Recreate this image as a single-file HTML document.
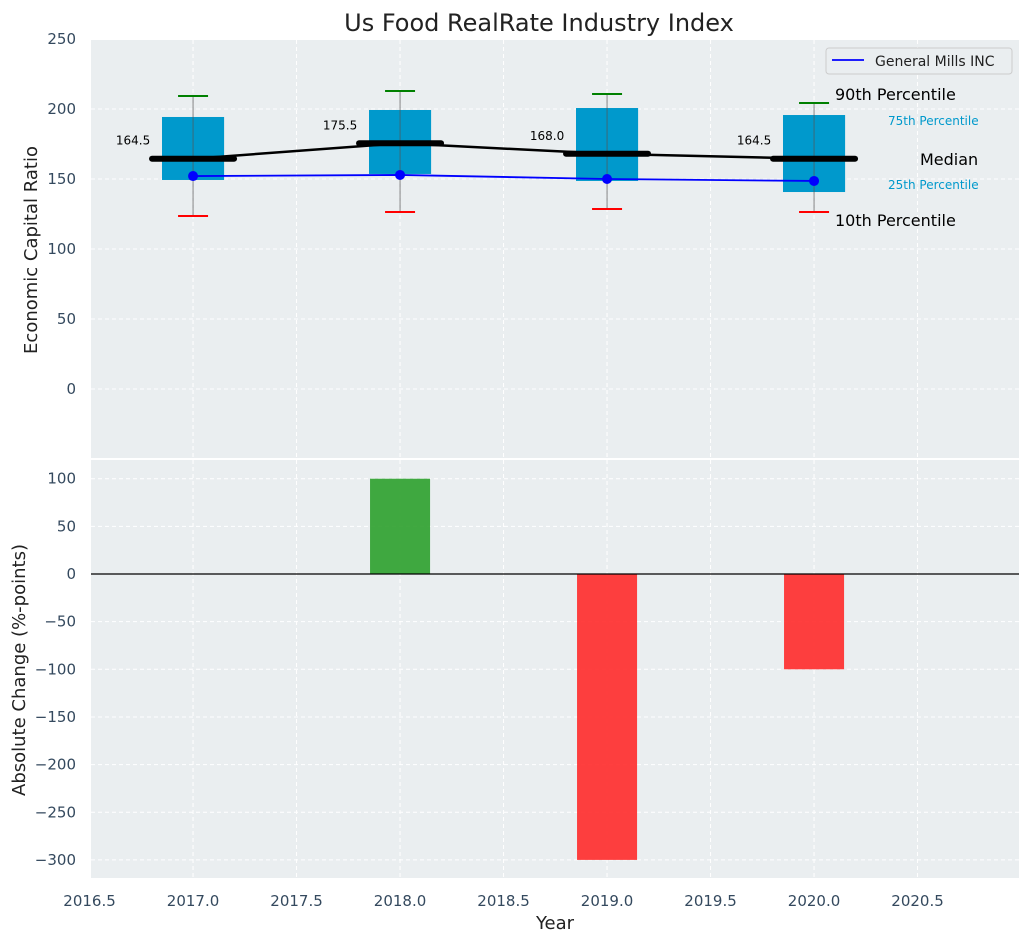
<!DOCTYPE html>
<html><head><meta charset="utf-8"><style>
body{margin:0;background:#fff;font-family:"Liberation Sans","DejaVu Sans",sans-serif}
svg text{font-family:"DejaVu Sans","Liberation Sans",sans-serif}
</style></head><body>
<svg id="chart" width="1029" height="942" xmlns="http://www.w3.org/2000/svg">
<text x="539" y="31" font-size="24" text-anchor="middle" fill="#222">Us Food RealRate Industry Index</text>
<g id="topg"></g><g id="botg"></g>
</svg>
<script>
const years=[2017,2018,2019,2020];
const p10=[123.6,126.4,128.6,126.4];
const q25=[149.3,153.6,148.6,140.7];
const median=[164.5,175.5,168.0,164.5];
const q75=[194.3,199.3,200.7,195.7];
const p90=[209.3,212.9,210.7,204.3];
const company=[152.1,152.9,150.0,148.6];
const change=[0,100,-300,-100];
const topTicks=[0,50,100,150,200,250];
const botTicks=[-300,-250,-200,-150,-100,-50,0,50,100];
const xTicks=[2016.5,2017.0,2017.5,2018.0,2018.5,2019.0,2019.5,2020.0,2020.5];

const NS="http://www.w3.org/2000/svg";
const L=91,R=1019;
const X=v=>L+(v-2016.507)*207;
const yT=v=>389-v*1.4;
const yB=v=>574-v*0.953;
function mk(p,t,a,txt){const e=document.createElementNS(NS,t);for(const k in a)e.setAttribute(k,a[k]);if(txt!==undefined)e.textContent=txt;p.appendChild(e);return e;}
const gTop=document.getElementById('topg'),gBot=document.getElementById('botg');
let e=mk(gTop,'rect',{x:L,y:40,width:R-L,height:418,fill:'#eaeef0'});


e=mk(gBot,'rect',{x:L,y:460,width:R-L,height:418,fill:'#eaeef0'});


xTicks.forEach(t=>{
 mk(gTop,'line',{x1:X(t),x2:X(t),y1:40,y2:458,stroke:'#fff','stroke-dasharray':'4,3'});
 mk(gBot,'line',{x1:X(t),x2:X(t),y1:460,y2:878,stroke:'#fff','stroke-dasharray':'4,3'});
 e=mk(gBot,'text',{x:X(t),y:906,'font-size':15,'text-anchor':'middle',fill:'#34495e'},t.toFixed(1));
 
 
});
topTicks.forEach(t=>{
 mk(gTop,'line',{x1:L,x2:R,y1:yT(t),y2:yT(t),stroke:'#fff','stroke-dasharray':'4,3'});
 e=mk(gTop,'text',{x:76,y:yT(t)+5,'font-size':15,'text-anchor':'end',fill:'#34495e'},t);
 
 
});
botTicks.forEach(t=>{
 mk(gBot,'line',{x1:L,x2:R,y1:yB(t),y2:yB(t),stroke:'#fff','stroke-dasharray':'4,3'});
 e=mk(gBot,'text',{x:76,y:yB(t)+5,'font-size':15,'text-anchor':'end',fill:'#34495e'},t<0?'\u2212'+(-t):t);
 
 
});
years.forEach((yr,i)=>{
 const x=X(yr),w=0.3*207;
 e=mk(gTop,'rect',{x:x-w/2,y:yT(q75[i]),width:w,height:yT(q25[i])-yT(q75[i]),fill:'#0099cc'});
 
 
 mk(gTop,'line',{x1:x,x2:x,y1:yT(p90[i]),y2:yT(p10[i]),stroke:'#555','stroke-width':1,opacity:0.7});
 e=mk(gTop,'line',{x1:x-15,x2:x+15,y1:yT(p90[i]),y2:yT(p90[i]),stroke:'green','stroke-width':2});
 
 
 e=mk(gTop,'line',{x1:x-15,x2:x+15,y1:yT(p10[i]),y2:yT(p10[i]),stroke:'red','stroke-width':2});
 
 
});
let pts=years.map((yr,i)=>X(yr)+','+yT(median[i])).join(' ');
e=mk(gTop,'polyline',{points:pts,fill:'none',stroke:'#000','stroke-width':2.5});


years.forEach((yr,i)=>{
 const x=X(yr);
 e=mk(gTop,'line',{x1:x-41,x2:x+41,y1:yT(median[i]),y2:yT(median[i]),stroke:'#000','stroke-width':6,'stroke-linecap':'round'});
 
 
 e=mk(gTop,'text',{x:x-60,y:yT(median[i])-14,'font-size':12,'text-anchor':'middle',fill:'#000'},median[i].toFixed(1));
 
 
});
pts=years.map((yr,i)=>X(yr)+','+yT(company[i])).join(' ');
e=mk(gTop,'polyline',{points:pts,fill:'none',stroke:'#0000ff','stroke-width':1.8});


years.forEach((yr,i)=>{
 e=mk(gTop,'circle',{cx:X(yr),cy:yT(company[i]),r:5,fill:'#0000ff'});
 
 
});
const ann=[['90th Percentile',835,100,16,'#000'],['75th Percentile',888,125,12,'#0099cc'],['Median',920,165,16,'#000'],['25th Percentile',888,189,12,'#0099cc'],['10th Percentile',835,226,16,'#000']];
ann.forEach(a=>{e=mk(gTop,'text',{x:a[1],y:a[2],'font-size':a[3],fill:a[4]},a[0]);
 
 });
e=mk(gTop,'rect',{x:826,y:48,width:186,height:26,rx:3,fill:'#eaeef0',stroke:'#ccc'});


mk(gTop,'line',{x1:832,x2:864,y1:60,y2:60,stroke:'#0000ff','stroke-width':1.8});
e=mk(gTop,'text',{x:875,y:66,'font-size':14,fill:'#222'},'General Mills INC');


years.forEach((yr,i)=>{
 const x=X(yr),w=0.29*207,v=change[i];
 if(v===0)return;
 e=mk(gBot,'rect',{x:x-w/2,y:Math.min(yB(v),yB(0)),width:w,height:Math.abs(yB(v)-yB(0)),fill:v>0?'#2ca02c':'#ff2a2a',opacity:0.9});
 
 
});
e=mk(gBot,'line',{x1:L,x2:R,y1:yB(0),y2:yB(0),stroke:'#000','stroke-width':1.2});


e=mk(gTop,'text',{x:37,y:250,'font-size':18,'text-anchor':'middle',fill:'#222',transform:'rotate(-90 37 250)'},'Economic Capital Ratio');


e=mk(gBot,'text',{x:25,y:670,'font-size':18,'text-anchor':'middle',fill:'#222',transform:'rotate(-90 25 670)'},'Absolute Change (%-points)');


e=mk(gBot,'text',{x:555,y:929,'font-size':18,'text-anchor':'middle',fill:'#222'},'Year');


</script>
</body></html>
